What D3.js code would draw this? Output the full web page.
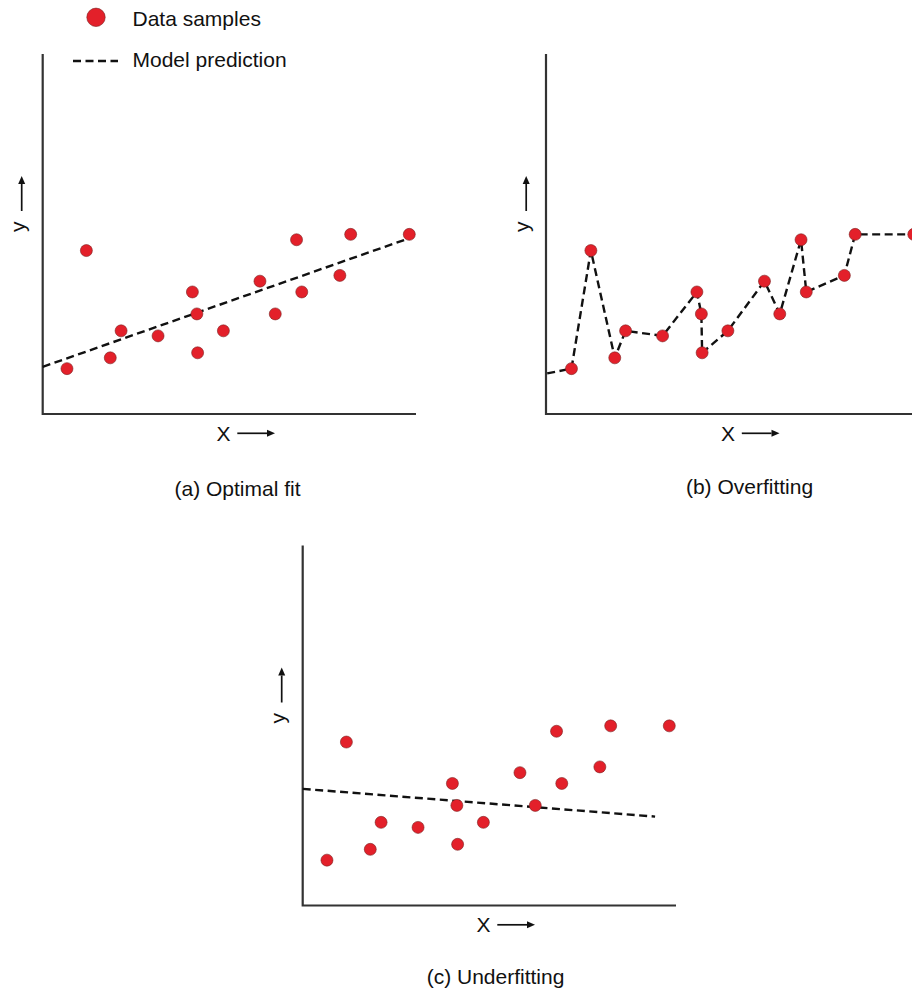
<!DOCTYPE html>
<html>
<head>
<meta charset="utf-8">
<script src="https://cdn.jsdelivr.net/npm/d3@7"></script>
<style>
    body { margin: 0; background: #fff; }
    svg { display: block; }
    text { font-family: Arial, "Liberation Sans", sans-serif; fill: #111; }
</style>
</head>
<body>
<svg id="chart" width="912" height="993"></svg>
<script>
// data samples (same set in all three panels)
var sampleX = [6.5, 11.7, 18.1, 21.0, 30.9, 40.1, 41.3, 41.5, 48.4, 58.2, 62.3, 68.0, 69.4, 79.6, 82.5, 98.2];
var sampleY = [12.6, 45.4, 15.6, 23.1, 21.7, 33.9, 27.8, 17.0, 23.1, 36.9, 27.8, 48.4, 33.9, 38.5, 49.9, 49.9];

// model predictions
var fitX = [0, 99.2];
var fitY = [13.1, 49.2];
var underX = [0, 94.4];
var underY = [32.4, 24.7];
// overfit curve runs through every sample, plus these two ends
var overStart = [0, 11.3];
var overEnd = [104, 49.9];

var captions = ['(a) Optimal fit', '(b) Overfitting', '(c) Underfitting'];
var legendLabels = ['Data samples', 'Model prediction'];

var red = '#e3202a';
var fontSize = 21;
var dash = '8,4.5';

var svg = d3.select('#chart');

var x = d3.scaleLinear().domain([0, 100]).range([42.7, 416]);
var y = d3.scaleLinear().domain([0, 100]).range([414, 54]);

var samples = sampleX.map((v, i) => ({x: v, y: sampleY[i]}));
var sorted = samples.slice().sort((a, b) => a.x - b.x);

var line = d3.line().x(d => x(d.x)).y(d => y(d.y));

function toPts(xs, ys) {
    return xs.map((v, i) => ({x: v, y: ys[i]}));
}

var panels = [
    {dx: 0, dy: 0, axisDx: 0, model: toPts(fitX, fitY), cx: 237.5, cy: 496},
    {dx: 504.5, dy: 0, axisDx: -1.2,
        model: [{x: overStart[0], y: overStart[1]}].concat(sorted, [{x: overEnd[0], y: overEnd[1]}]),
        cx: 749.5, cy: 493.5},
    {dx: 260, dy: 491.5, axisDx: 0, model: toPts(underX, underY), cx: 495.5, cy: 984},
];

function arrow(g, x1, y1, x2, y2) {
    var ang = Math.atan2(y2 - y1, x2 - x1);
    var len = 8, half = 3.5;
    var bx = x2 - len * Math.cos(ang), by = y2 - len * Math.sin(ang);
    g.append('line')
        .attr('x1', x1).attr('y1', y1)
        .attr('x2', bx).attr('y2', by)
        .attr('stroke', '#111')
        .attr('stroke-width', 1.7);
    g.append('path')
        .attr('d', 'M' + x2 + ',' + y2 +
            'L' + (bx - half * Math.sin(ang)) + ',' + (by + half * Math.cos(ang)) +
            'L' + (bx + half * Math.sin(ang)) + ',' + (by - half * Math.cos(ang)) + 'Z')
        .attr('fill', '#111');
}

panels.forEach(function(p, i) {
    var g = svg.append('g').attr('transform', 'translate(' + p.dx + ',' + p.dy + ')');

    // axes (no ticks)
    var x0 = x.range()[0] + p.axisDx;
    g.append('path')
        .attr('d', 'M' + x0 + ',' + y.range()[1] + 'V' + y.range()[0] + 'H' + x.range()[1])
        .attr('fill', 'none')
        .attr('stroke', '#333')
        .attr('stroke-width', 2.2);

    // axis labels
    g.append('text')
        .attr('x', 216.5)
        .attr('y', 440.7)
        .attr('font-size', fontSize)
        .text('X');
    arrow(g, 237.3, 433.3, 275, 433.3);

    g.append('text')
        .attr('transform', 'translate(24.5,232) rotate(-90)')
        .attr('font-size', fontSize)
        .text('y');
    arrow(g, 21.7, 211, 21.7, 176);

    // model prediction
    g.append('path')
        .datum(p.model)
        .attr('d', line)
        .attr('fill', 'none')
        .attr('stroke', '#111')
        .attr('stroke-width', 2.4)
        .attr('stroke-dasharray', dash);

    // samples
    g.selectAll('circle').data(samples).enter().append('circle')
        .attr('cx', d => x(d.x))
        .attr('cy', d => y(d.y))
        .attr('r', 6)
        .attr('fill', red)
        .attr('stroke', '#7a2020')
        .attr('stroke-width', 0.6);

    svg.append('text')
        .attr('x', p.cx)
        .attr('y', p.cy)
        .attr('text-anchor', 'middle')
        .attr('font-size', fontSize)
        .text(captions[i]);
});

// legend
var legend = svg.append('g');
legend.append('circle')
    .attr('cx', 96).attr('cy', 17.3).attr('r', 9.2)
    .attr('fill', red)
    .attr('stroke', '#7a2020')
    .attr('stroke-width', 0.6);
legend.append('line')
    .attr('x1', 73).attr('x2', 118)
    .attr('y1', 61).attr('y2', 61)
    .attr('stroke', '#111')
    .attr('stroke-width', 2.4)
    .attr('stroke-dasharray', dash);
legend.selectAll('text.lbl').data(legendLabels).enter().append('text')
    .attr('class', 'lbl')
    .attr('x', 132.5)
    .attr('y', (d, i) => 26 + i * 40.5)
    .attr('font-size', fontSize)
    .text(d => d);
</script>
</body>
</html>
